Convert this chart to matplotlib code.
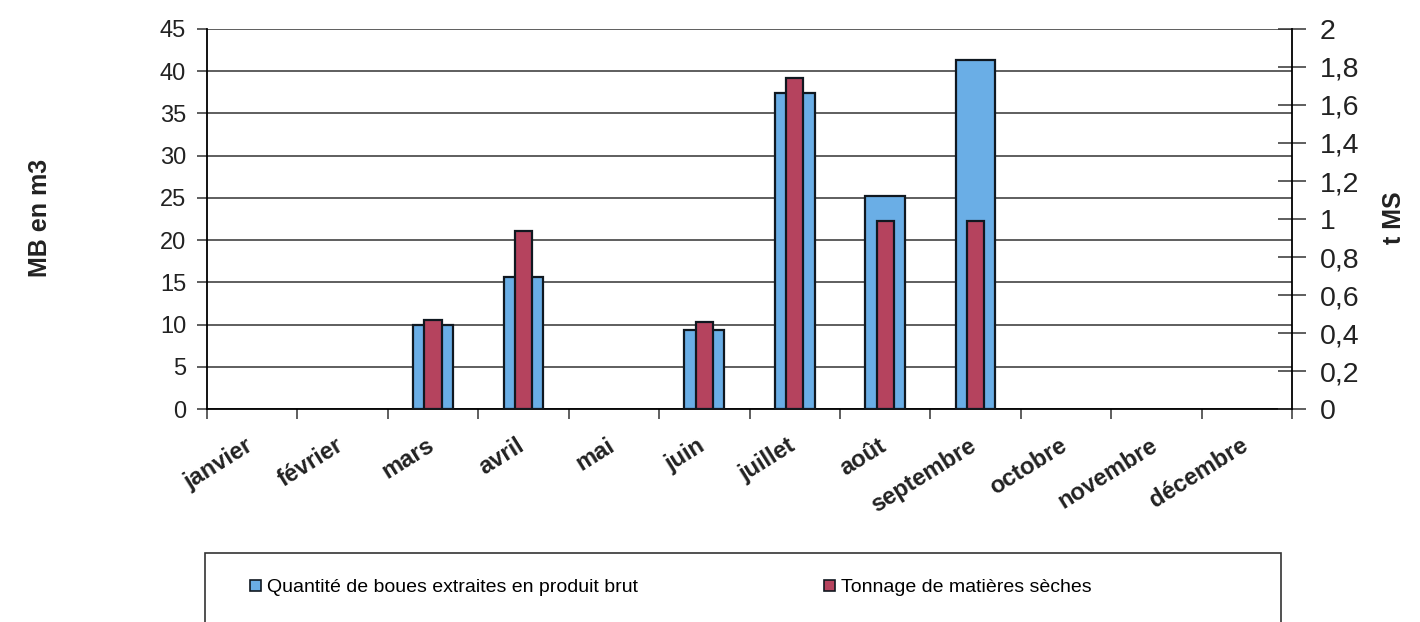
import matplotlib.pyplot as plt
import numpy as np
from matplotlib.patches import Rectangle, Patch

plt.rcParams['font.family'] = ['Liberation Sans', 'DejaVu Sans']

mois = ['janvier', 'février', 'mars', 'avril', 'mai', 'juin', 'juillet',
        'août', 'septembre', 'octobre', 'novembre', 'décembre']
# quantite de boues en produit brut (m3)
mb = [0, 0, 10, 15.6, 0, 9.4, 37.4, 25.2, 41.3, 0, 0, 0]
# tonnage de matieres seches (t MS)
tms = [0, 0, 0.47, 0.935, 0, 0.46, 1.74, 0.99, 0.99, 0, 0, 0]
ticks_ms = [0, 0.2, 0.4, 0.6, 0.8, 1, 1.2, 1.4, 1.6, 1.8, 2]
labels_ms = ['0', '0,2', '0,4', '0,6', '0,8', '1', '1,2', '1,4', '1,6', '1,8', '2']

bleu = '#6aaee6'
rouge = '#b5435e'

fig = plt.figure(figsize=(14.2, 6.22), dpi=100)
ax = fig.add_axes([0.1458, 0.3424, 0.9099 - 0.1458, 0.9534 - 0.3424])
ax2 = ax.twinx()

x = np.arange(len(mois))
mb = np.array(mb)
tms = np.array(tms)
k1 = mb > 0
k2 = tms > 0
ax.bar(x[k1], mb[k1], width=0.44, color=bleu, edgecolor='#101820', linewidth=1.6, zorder=3)
ax2.bar(x[k2], tms[k2], width=0.19, color=rouge, edgecolor='#101820', linewidth=1.6, zorder=3)

ax.set_xlim(-0.5, 11.5)
ax.set_ylim(0, 45)
ax2.set_ylim(0, 2)
ax.set_yticks(np.arange(0, 46, 5))
ax2.set_yticks(ticks_ms)
ax2.set_yticklabels(labels_ms)

ax.set_axisbelow(True)
ax.grid(axis='y', color='#333333', linewidth=1.1)

# ticks x entre les categories, libelles un peu decales a gauche
ax.set_xticks(np.arange(-0.5, 12, 1))
ax.set_xticklabels([])
ax.set_xticks(x - 0.08, minor=True)
ax.set_xticklabels(mois, minor=True, rotation=32, ha='right', rotation_mode='anchor',
                   fontsize=17, fontweight='bold', color='#222222')
ax.tick_params(axis='x', which='minor', length=0, pad=18)
ax.tick_params(axis='x', which='major', direction='out', length=7, width=1.1, color='#333333')
ax.tick_params(axis='y', direction='out', length=7, width=1.1, labelsize=17, color='#333333',
               labelcolor='#222222', pad=8)
ax2.tick_params(axis='y', direction='inout', length=20, width=1.1, labelsize=20.5, color='#333333',
                labelcolor='#222222', pad=10)

for s in ['top', 'right']:
    ax.spines[s].set_visible(False)
for s in ['top', 'left', 'bottom']:
    ax2.spines[s].set_visible(False)
ax.spines['left'].set_linewidth(1.3)
ax.spines['bottom'].set_linewidth(1.3)
ax2.spines['right'].set_linewidth(1.3)

fig.text(0.028, 0.65, 'MB en m3', rotation=90, fontsize=18, fontweight='bold',
         ha='center', va='center', color='#222222')
fig.text(0.982, 0.65, 't MS', rotation=90, fontsize=18, fontweight='bold',
         ha='center', va='center', color='#222222')

# cadre de legende (coupe en bas)
fig.patches.append(Rectangle((0.1444, -0.05), 0.902 - 0.1444, 0.161,
                             transform=fig.transFigure, fill=False,
                             edgecolor='#333333', linewidth=1.2))
h1 = Patch(facecolor=bleu, edgecolor='#101820', linewidth=1.2)
h2 = Patch(facecolor=rouge, edgecolor='#101820', linewidth=1.2)
fig.legend([h1], ['Quantité de boues extraites en produit brut'], loc='center left',
           bbox_to_anchor=(0.164, 0.055), frameon=False, fontsize=14,
           handlelength=0.55, handleheight=0.55, handletextpad=0.3)
fig.legend([h2], ['Tonnage de matières sèches'], loc='center left',
           bbox_to_anchor=(0.568, 0.055), frameon=False, fontsize=14,
           handlelength=0.55, handleheight=0.55, handletextpad=0.3)

fig.savefig('out.png', dpi=100)
